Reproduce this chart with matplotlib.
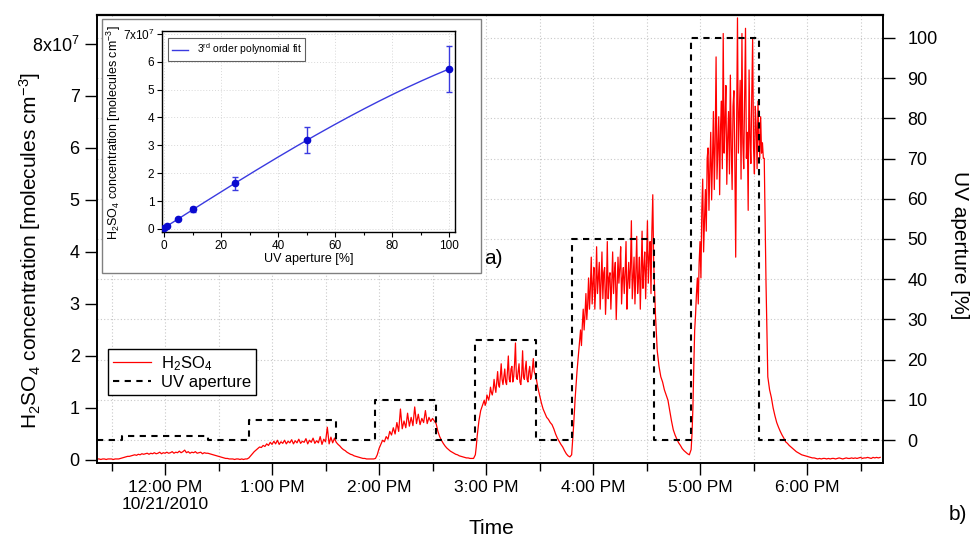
import numpy as np
import matplotlib
matplotlib.use("Agg")
import matplotlib.pyplot as plt
from matplotlib.patches import Rectangle
from matplotlib.ticker import FixedLocator, FuncFormatter
from matplotlib.transforms import blended_transform_factory

plt.rcParams['font.family'] = ['Liberation Sans', 'DejaVu Sans']
plt.rcParams['mathtext.default'] = 'regular'

# ---------------------------------------------------------------- data
# UV lamp aperture programme: switch times and the level held afterwards
uv_switch = ["11:22", "11:36", "12:24", "12:47", "13:36", "13:58", "14:32",
             "14:54", "15:28", "15:48", "16:34", "16:55", "17:33", "18:41"]
uv_level = [0, 1, 0, 5, 0, 10, 0, 25, 0, 50, 0, 100, 0]          # %

# H2SO4 concentration (1e7 molecules cm-3) for each UV step:
# start time, sampling interval (min), values
h2so4_dark0 = [0.02, 0.02, 0.01, 0.02, 0.02, 0.01, 0.02, 0.02, 0.02, 0.01,
               0.02, 0.02, 0.02, 0.03]
h2so4_uv1 = [0.04, 0.05, 0.06, 0.07, 0.07, 0.08, 0.09, 0.10, 0.09, 0.11,
             0.10, 0.12, 0.11, 0.12, 0.13, 0.11, 0.13, 0.12, 0.14, 0.12,
             0.13, 0.15, 0.12, 0.14, 0.13, 0.15, 0.13, 0.14, 0.16, 0.13,
             0.15, 0.14, 0.17, 0.14, 0.16, 0.19, 0.14, 0.16, 0.13, 0.15,
             0.14, 0.16, 0.13, 0.14, 0.15, 0.12, 0.14, 0.13]
h2so4_dark1 = [0.13, 0.12, 0.11, 0.10, 0.09, 0.08, 0.07, 0.06, 0.05, 0.04,
               0.03, 0.03, 0.02, 0.02, 0.02, 0.01, 0.02, 0.02, 0.01, 0.02,
               0.01, 0.02, 0.02]
h2so4_uv5 = [0.04, 0.08, 0.12, 0.16, 0.19, 0.22, 0.25, 0.24, 0.28, 0.26,
             0.31, 0.28, 0.34, 0.30, 0.36, 0.31, 0.38, 0.30, 0.35, 0.32,
             0.38, 0.31, 0.36, 0.33, 0.39, 0.31, 0.37, 0.33, 0.40, 0.32,
             0.36, 0.34, 0.41, 0.31, 0.38, 0.34, 0.42, 0.32, 0.37, 0.33,
             0.45, 0.30, 0.40, 0.35, 0.63, 0.31, 0.44, 0.33, 0.42]
h2so4_dark5 = [0.34, 0.30, 0.27, 0.23, 0.20, 0.18, 0.15, 0.13, 0.11, 0.10,
               0.08, 0.07, 0.06, 0.05, 0.04, 0.03, 0.03, 0.02, 0.02, 0.02,
               0.02, 0.02]
h2so4_uv10 = [0.03, 0.10, 0.22, 0.30, 0.38, 0.35, 0.45, 0.40, 0.55, 0.48,
              0.62, 0.50, 0.72, 0.55, 0.98, 0.60, 0.75, 0.62, 0.90, 0.65,
              0.82, 0.66, 1.02, 0.70, 0.88, 0.68, 0.80, 0.72, 0.95, 0.70,
              0.82, 0.74, 0.80, 0.75]
h2so4_dark10 = [0.70, 0.55, 0.45, 0.38, 0.32, 0.27, 0.23, 0.20, 0.17, 0.15,
                0.13, 0.11, 0.10, 0.08, 0.07, 0.06, 0.05, 0.04, 0.04, 0.03,
                0.03, 0.03]
h2so4_uv25 = [0.10, 0.25, 0.45, 0.60, 0.75, 0.85, 0.95, 1.00, 1.05, 1.10,
              1.15, 1.05, 1.10, 1.25, 1.20, 1.15, 1.25, 1.40, 1.30, 1.25,
              1.35, 1.55, 1.40, 1.30, 1.50, 1.70, 1.45, 1.40, 1.60, 1.85,
              1.55, 1.45, 1.60, 1.75, 1.50, 1.45, 1.70, 2.00, 1.55, 1.50,
              1.75, 1.80, 1.50, 1.60, 1.85, 2.25, 1.60, 1.55, 1.70, 1.85,
              1.50, 1.45, 1.65, 2.10, 1.60, 1.55, 1.75, 1.90, 1.55, 1.50,
              1.70, 1.80, 1.55, 1.60, 1.75, 1.95, 1.70, 1.65]
h2so4_dark25 = [1.60, 1.40, 1.25, 1.10, 0.98, 0.90, 0.82, 0.78, 0.72, 0.68,
                0.60, 0.50, 0.42, 0.36, 0.30, 0.25, 0.18, 0.12, 0.08, 0.06]
h2so4_uv50 = [0.10, 0.35, 0.60, 0.90, 1.20, 1.45, 1.70, 1.90, 2.10, 2.30,
              2.50, 2.20, 2.60, 2.90, 2.50, 2.80, 3.20, 2.70, 3.00, 3.50,
              2.90, 3.30, 3.90, 3.00, 3.40, 3.70, 2.90, 3.30, 4.10, 3.20,
              3.50, 3.80, 2.90, 3.40, 4.00, 3.10, 3.60, 3.70, 2.80, 3.30,
              4.20, 3.10, 3.50, 3.60, 2.90, 3.40, 4.00, 3.20, 3.60, 3.80,
              2.70, 3.30, 3.90, 3.40, 3.70, 4.10, 3.00, 3.50, 3.70, 3.20,
              3.60, 4.20, 2.90, 3.40, 3.80, 3.30, 3.70, 4.60, 3.10, 3.50,
              3.90, 3.00, 3.60, 4.30, 3.20, 3.50, 3.90, 2.90, 3.60, 4.40,
              3.30, 3.70, 4.00, 3.10, 3.80, 4.60, 3.40, 3.90, 4.20, 3.20,
              4.40, 5.10]
h2so4_dark50 = [3.80, 2.80, 2.10, 1.80, 1.60, 1.50, 1.35, 1.25, 1.15, 0.95,
                0.75, 0.58, 0.48, 0.40, 0.33, 0.28, 0.22, 0.18, 0.15, 0.12,
                0.10]
h2so4_uv100 = [0.20, 0.50, 1.00, 1.80, 2.50, 2.80, 3.20, 3.50, 3.00, 3.80,
               4.20, 3.50, 4.80, 5.40, 4.00, 4.60, 5.20, 4.40, 5.80, 6.00,
               4.80, 5.60, 6.30, 5.00, 5.80, 6.70, 5.20, 6.10, 7.75, 5.40,
               6.00, 6.60, 5.10, 6.40, 6.90, 5.60, 8.20, 5.90, 6.50, 7.20,
               5.30, 6.20, 6.70, 5.50, 7.40, 6.00, 5.20, 6.80, 7.10, 5.80,
               3.90, 6.40, 8.50, 5.90, 6.60, 7.30, 5.40, 8.20, 6.10, 5.60,
               7.00, 8.30, 5.80, 6.30, 4.80, 7.50, 6.20, 5.70, 7.00, 8.10,
               6.00, 5.50, 6.80, 6.40, 5.60, 6.90, 6.20, 5.80, 6.60, 5.90,
               6.10, 5.80, 5.80, 4.60]
h2so4_dark100 = [3.40, 1.60, 1.35, 1.20, 1.00, 0.85, 0.72, 0.63, 0.55, 0.48,
                 0.42, 0.35, 0.32, 0.28, 0.25, 0.22, 0.19, 0.16, 0.14, 0.12,
                 0.10, 0.09, 0.08, 0.07, 0.06, 0.05, 0.04, 0.04, 0.03, 0.02,
                 0.03, 0.02, 0.03, 0.03, 0.02, 0.03, 0.02, 0.03, 0.03, 0.02,
                 0.03, 0.04, 0.03, 0.02, 0.03, 0.04, 0.03, 0.03, 0.04, 0.03,
                 0.04, 0.03, 0.04, 0.05, 0.03, 0.04, 0.04, 0.05, 0.04, 0.03,
                 0.05, 0.04, 0.05, 0.04, 0.05]

h2so4_record = [
    ("11:22", 1.0, h2so4_dark0), ("11:36", 1.0, h2so4_uv1),
    ("12:24", 1.0, h2so4_dark1), ("12:47", 1.0, h2so4_uv5),
    ("13:36", 1.0, h2so4_dark5), ("13:58", 1.0, h2so4_uv10),
    ("14:32", 1.0, h2so4_dark10), ("14:54", 0.5, h2so4_uv25),
    ("15:28", 1.0, h2so4_dark25), ("15:48", 0.5, h2so4_uv50),
    ("16:34", 1.0, h2so4_dark50), ("16:55", 0.5, h2so4_uv100),
    ("17:37", 1.0, h2so4_dark100),
]

# Calibration: mean H2SO4 (1e7 molecules cm-3) versus UV aperture (%)
cal_aperture = [0, 1, 5, 10, 25, 50, 100]
cal_conc = [0.02, 0.12, 0.35, 0.70, 1.64, 3.18, 5.74]
cal_err = [0.02, 0.03, 0.04, 0.08, 0.23, 0.47, 0.82]

# ---------------------------------------------------------------- helpers
def clock(s):
    h, m = s.split(":")
    return int(h) + int(m) / 60.0

t_h2so4, c_h2so4 = [], []
for start, step, vals in h2so4_record:
    t0 = clock(start)
    t_h2so4.extend(t0 + np.arange(len(vals)) * step / 60.0)
    c_h2so4.extend(vals)

uv_t = [clock(s) for s in uv_switch]
uv_y = uv_level + [uv_level[-1]]

# ---------------------------------------------------------------- figure
fig = plt.figure(figsize=(9.74, 5.39), dpi=100)
W, H = 974.0, 539.0
ax1 = fig.add_axes([97 / W, 1 - 462.7 / H, 786 / W, 447.4 / H])
ax2 = ax1.twinx()

ax1.set_xlim(11.364, 18.710)
ax1.set_ylim(-0.052, 8.55)
ax2.set_ylim(-5.6, 105.6)

red_line, = ax1.plot(t_h2so4, c_h2so4, color='#ff0000', lw=0.9, zorder=2)
uv_line, = ax2.step(uv_t, uv_y, where='post', color='black', lw=1.5,
                    ls=(0, (3, 2.6)), zorder=3)

# grid: vertical at every half hour, horizontal at every 10 % of aperture
grid_kw = dict(color='#c8c8c8', lw=0.8, ls=(0, (1, 2)))
ax1.grid(True, axis='x', which='both', **grid_kw)
hz = blended_transform_factory(ax1.transAxes, ax2.transData)
for v in range(0, 101, 10):
    ax1.plot([0, 1], [v, v], transform=hz, zorder=0.5, **grid_kw)

# x axis: half-hour ticks, labels at full hours
def hour_label(h, pos):
    hr = int(round(h))
    lab = f"{(hr - 1) % 12 + 1}:00 {'PM' if hr >= 12 else 'AM'}"
    if hr == 12:
        lab += "\n10/21/2010"
    return lab

ax1.xaxis.set_major_locator(FixedLocator(list(range(12, 19))))
ax1.xaxis.set_minor_locator(FixedLocator([h + 0.5 for h in range(11, 19)]))
ax1.xaxis.set_major_formatter(FuncFormatter(hour_label))

left_ticks = list(range(0, 9))
ax1.set_yticks(left_ticks)
ax1.set_yticklabels([str(v) for v in left_ticks[:-1]] + ['8x10$^{7}$'])
ax2.set_yticks(list(range(0, 101, 10)))

ax1.tick_params(axis='x', which='major', direction='out', length=8.5,
                width=1, labelsize=12.5, pad=4)
ax1.tick_params(axis='x', which='minor', direction='out', length=6, width=1)
ax1.tick_params(axis='y', direction='out', length=8.5, width=1,
                labelsize=13, pad=4)
ax2.tick_params(axis='y', direction='out', length=8.5, width=1,
                labelsize=13, pad=9)
for ax in (ax1, ax2):
    for sp in ax.spines.values():
        sp.set_linewidth(1.2)
ax1.spines['top'].set_linewidth(1.6)

fig.text(30 / W, 1 - 251 / H,
         'H$_2$SO$_4$ concentration [molecules cm$^{-3}$]',
         rotation=90, ha='center', va='center', fontsize=15)
fig.text(960 / W, 1 - 245 / H, 'UV aperture [%]', rotation=270,
         ha='center', va='center', fontsize=15)
fig.text(491 / W, 1 - 529 / H, 'Time', ha='center', va='center', fontsize=15)
fig.text(958 / W, 1 - 515 / H, 'b)', ha='center', va='center', fontsize=15)

leg = ax2.legend([red_line, uv_line], ['H$_2$SO$_4$', 'UV aperture'],
                 loc='upper left', bbox_to_anchor=(108 / W, 1 - 349 / H),
                 bbox_transform=fig.transFigure, fontsize=12,
                 frameon=True, fancybox=False, edgecolor='black',
                 framealpha=1, handlelength=2.3, handletextpad=0.6,
                 borderpad=0.3, labelspacing=0.15, borderaxespad=0)
leg.get_frame().set_linewidth(1.0)

# ---------------------------------------------------------------- inset
frame = Rectangle((102 / W, 1 - 273 / H), (481 - 102) / W, (273 - 19) / H,
                  transform=fig.transFigure, facecolor='white',
                  edgecolor='#808080', lw=1.0, zorder=5)
fig.add_artist(frame)
fig.text(493 / W, 1 - 259 / H, 'a)', ha='center', va='center', fontsize=15,
         zorder=6)

axin = fig.add_axes([162 / W, 1 - 232 / H, (455 - 162) / W, (232 - 31) / H],
                    zorder=10)
axin.set_xlim(-0.7, 102)
axin.set_ylim(-0.11, 7.1)

coef = np.polyfit(cal_aperture, cal_conc, 3)
xf = np.linspace(0, 100, 200)
fit_line, = axin.plot(xf, np.polyval(coef, xf), color='#3a3ae0', lw=1.0,
                      zorder=2)
axin.errorbar(cal_aperture, cal_conc, yerr=cal_err, fmt='o', color='#0a0ad0',
              ms=4.5, ecolor='#3a3ae0', elinewidth=1.0, capsize=2.5,
              capthick=1.0, zorder=3)

axin.set_xticks(list(range(0, 101, 20)))
axin.set_xticks(list(range(10, 100, 20)), minor=True)
in_yt = list(range(0, 8))
axin.set_yticks(in_yt)
axin.set_yticklabels([str(v) for v in in_yt[:-1]] + ['7x10$^{7}$'])
axin.tick_params(which='major', direction='out', length=3.5, width=0.8,
                 labelsize=8.5, pad=2)
axin.tick_params(which='minor', direction='out', length=2.5, width=0.8)
axin.grid(True, which='major', color='#d8d8d8', lw=0.7, ls=(0, (1, 2)))
axin.set_axisbelow(True)
for sp in axin.spines.values():
    sp.set_linewidth(1.0)
axin.set_xlabel('UV aperture [%]', fontsize=9, labelpad=1)
fig.text(114 / W, 1 - 133 / H,
         'H$_2$SO$_4$ concentration [molecules cm$^{-3}$]',
         rotation=90, ha='center', va='center', fontsize=9, zorder=11)
inleg = axin.legend([fit_line], ['3$^{rd}$ order polynomial fit'],
                    loc='upper left', bbox_to_anchor=(0.02, 0.965),
                    fontsize=7.5, frameon=True, fancybox=False,
                    edgecolor='#606060', framealpha=1, handlelength=1.6,
                    borderpad=0.35, borderaxespad=0)
inleg.get_frame().set_linewidth(0.8)

fig.savefig('out.png', dpi=100)
